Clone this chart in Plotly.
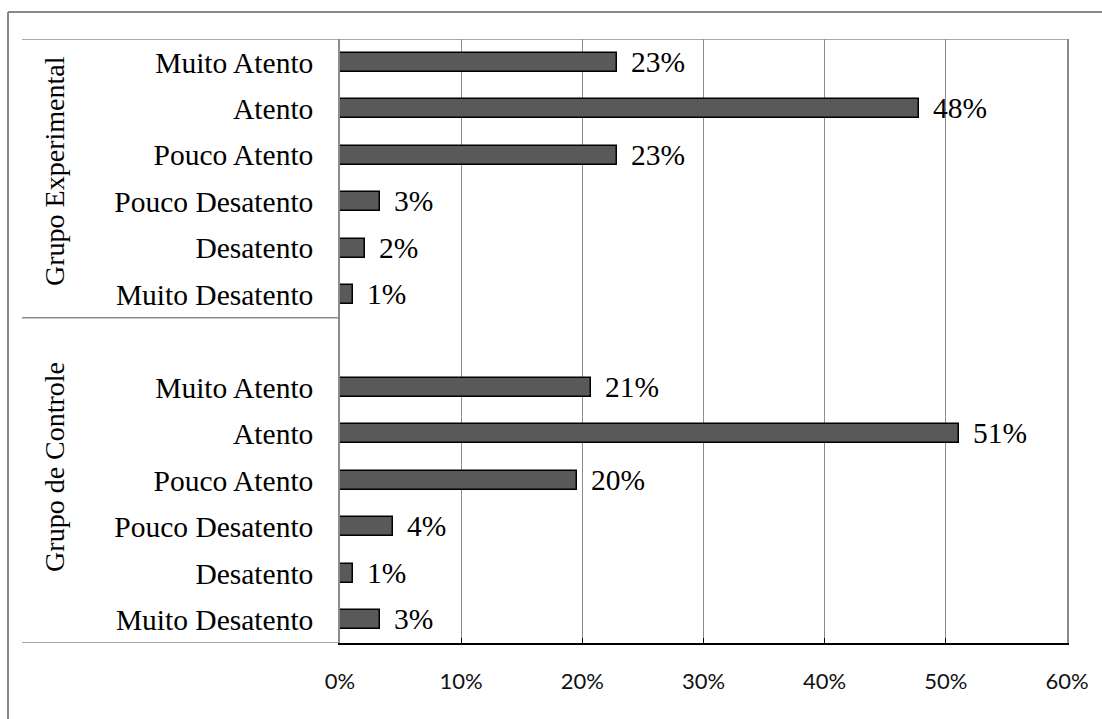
import plotly.graph_objects as go

# ---- data ----
levels = ["Muito Atento", "Atento", "Pouco Atento", "Pouco Desatento", "Desatento", "Muito Desatento"]
groups = ["Grupo Experimental", "Grupo de Controle"]
exp_values = [22.9, 47.8, 22.9, 3.3, 2.1, 1.1]
ctrl_values = [20.7, 51.1, 19.6, 4.4, 1.1, 3.3]
exp_labels = ["23%", "48%", "23%", "3%", "2%", "1%"]
ctrl_labels = ["21%", "51%", "20%", "4%", "1%", "3%"]
x_tickvals = [0, 10, 20, 30, 40, 50, 60]
x_ticktext = ["0%", "10%", "20%", "30%", "40%", "50%", "60%"]

# slot positions (top to bottom): experimental 12..7, blank 6, control 5..0
exp_pos = [12, 11, 10, 9, 8, 7]
ctrl_pos = [5, 4, 3, 2, 1, 0]

W, H = 1102, 719
L, R, T, B = 340, 1102 - 1067, 39, 719 - 643
pw, ph = W - L - R, H - T - B

def px_x(p):
    return (p - L) / pw

def px_y(p):
    return (H - B - p) / ph

serif = "Liberation Serif, Times New Roman, serif"
GRAY = "#8c8c8c"

fig = go.Figure()
fig.add_trace(go.Bar(
    x=exp_values + ctrl_values,
    y=exp_pos + ctrl_pos,
    orientation="h",
    width=0.41,
    marker=dict(color="#595959", line=dict(color="#000000", width=1.5)),
    text=exp_labels + ctrl_labels,
    texttemplate="\u2009\u2009%{text}",
    textposition="outside",
    constraintext="none",
    cliponaxis=False,
    textfont=dict(family=serif, size=29.5, color="#000000"),
    hoverinfo="skip",
))

fig.update_layout(
    width=W, height=H,
    margin=dict(l=L, r=R, t=T, b=B, pad=0),
    paper_bgcolor="white", plot_bgcolor="white",
    showlegend=False,
    bargap=0,
)

fig.update_xaxes(
    range=[0, 60],
    tickvals=x_tickvals, ticktext=x_ticktext,
    showgrid=True, gridcolor=GRAY, gridwidth=1,
    showline=True, linecolor="#000000", linewidth=2,
    ticks="inside", ticklen=5, tickcolor="#000000", tickwidth=1,
    tickfont=dict(family="Lato, Carlito, sans-serif", size=22, color="#111111"),
    ticklabelstandoff=18,
    zeroline=False,
    fixedrange=True,
)
fig.update_yaxes(
    range=[-0.5, 12.5],
    tickvals=exp_pos + ctrl_pos,
    ticktext=levels + levels,
    showgrid=False,
    showline=True, linecolor=GRAY, linewidth=1.5, mirror=True,
    ticks="",
    tickfont=dict(family=serif, size=29.5, color="#000000"),
    ticklabelstandoff=19,
    zeroline=False,
    fixedrange=True,
)

# group labels (rotated)
for name, yc in zip(groups, [9.66, 3.29]):
    fig.add_annotation(
        text=name, textangle=-90,
        xref="paper", yref="y", x=px_x(55), y=yc,
        xanchor="center", yanchor="middle", showarrow=False,
        font=dict(family=serif, size=28, color="#000000"),
    )

shapes = []
# top line of plot area extended to the left label area
shapes.append(dict(type="line", xref="paper", yref="y", x0=px_x(22), x1=1, y0=12.5, y1=12.5,
                   line=dict(color=GRAY, width=1.5)))
# group separator
shapes.append(dict(type="line", xref="paper", yref="y", x0=px_x(22), x1=0, y0=6.5, y1=6.5,
                   line=dict(color=GRAY, width=1.5)))
# bottom line in label area
shapes.append(dict(type="line", xref="paper", yref="y", x0=px_x(22), x1=0, y0=-0.5, y1=-0.5,
                   line=dict(color=GRAY, width=1.5)))
# outer chart border (top and left)
shapes.append(dict(type="line", xref="paper", yref="paper", x0=px_x(8), x1=px_x(1110),
                   y0=px_y(12), y1=px_y(12), line=dict(color="#888888", width=2)))
shapes.append(dict(type="line", xref="paper", yref="paper", x0=px_x(8), x1=px_x(8),
                   y0=px_y(12), y1=px_y(725), line=dict(color="#888888", width=2)))
fig.update_layout(shapes=shapes)

fig.write_html("out.html")
